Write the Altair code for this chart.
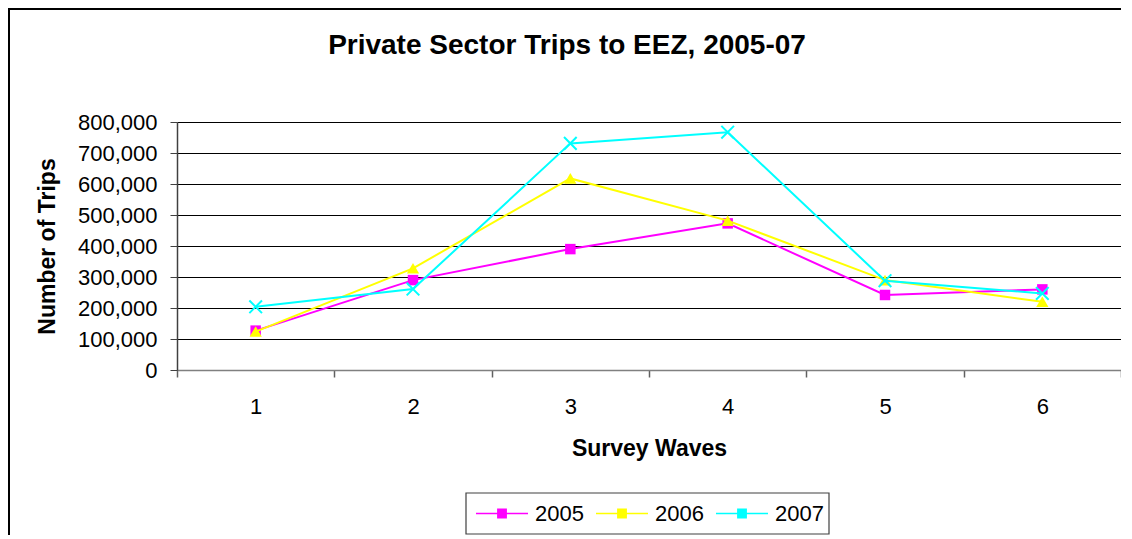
import altair as alt
import pandas as pd

# ---- data ----
waves = ["1", "2", "3", "4", "5", "6"]
years = ["2005", "2006", "2007"]
trips_2005 = [127000, 290000, 390000, 473000, 242000, 260000]
trips_2006 = [124000, 328000, 618000, 482000, 290000, 220000]
trips_2007 = [204000, 261000, 731000, 767000, 288000, 247000]
y_ticks = [0, 100000, 200000, 300000, 400000, 500000, 600000, 700000, 800000]

colors = ["#FF00FF", "#FFFF00", "#00FFFF"]
FONT = "Liberation Sans"

rows = []
for year, vals in zip(years, [trips_2005, trips_2006, trips_2007]):
    for w, v in zip(waves, vals):
        rows.append({"Wave": w, "Year": year, "Trips": v})
df = pd.DataFrame(rows)

x_enc = alt.X(
    "Wave:O",
    sort=waves,
    scale=alt.Scale(type="band", paddingInner=0, paddingOuter=0),
    axis=alt.Axis(
        title="Survey Waves",
        labelAngle=0,
        tickBand="extent",
        tickSize=7,
        labelPadding=19,
        titlePadding=20,
        domainColor="#808080",
        domainWidth=1.5,
        tickColor="#606060",
        tickWidth=1.5,
        labelFont=FONT,
        labelFontSize=22,
        labelColor="black",
        titleFont=FONT,
        titleFontSize=23,
        titleFontWeight="bold",
        titleColor="black",
        grid=False,
    ),
)
y_enc = alt.Y(
    "Trips:Q",
    scale=alt.Scale(domain=[0, 800000], nice=False),
    axis=alt.Axis(
        title="Number of Trips",
        values=y_ticks,
        format=",d",
        tickSize=7,
        labelPadding=13,
        titlePadding=18,
        grid=True,
        gridColor="black",
        gridWidth=1,
        domainColor="#404040",
        domainWidth=1.5,
        tickColor="#404040",
        labelFont=FONT,
        labelFontSize=22,
        labelColor="black",
        titleFont=FONT,
        titleFontSize=23,
        titleFontWeight="bold",
        titleColor="black",
    ),
)

# legend: line segment with a marker; an invisible left title shifts the
# entries so that they sit inside the legend frame drawn below
leg = alt.Legend(
    title=".",
    titleOrient="left",
    titleOpacity=0,
    titleFontSize=11,
    titlePadding=285,
    orient="bottom",
    offset=33,
    direction="horizontal",
    labelFont=FONT,
    labelFontSize=22,
    labelColor="black",
    labelOffset=6,
    columnPadding=11,
    padding=9,
    clipHeight=23,
    strokeColor="transparent",
    symbolSize=2704,
    symbolStrokeWidth=1.5,
    symbolType="M-1,0H1M-0.16,-0.16H0.16V0.16H-0.16Z",
)
color_enc_leg = alt.Color("Year:N", scale=alt.Scale(domain=years, range=colors), legend=leg)
color_enc = alt.Color("Year:N", scale=alt.Scale(domain=years, range=colors), legend=None)

marker_shapes = ["square", "triangle-up", "M-1,-1L1,1M-1,1L1,-1"]
marker_sizes = [110, 150, 160]
marker_filled = [True, True, False]

# outer chart frame (top and left edges; right/bottom lie outside the picture)
frame_src = alt.Chart(pd.DataFrame({"k": [0]}))
frame_left = frame_src.mark_rule(color="black", strokeWidth=2).encode(
    x=alt.value(-168), y=alt.value(-114), y2=alt.value(600)
)
frame_top = frame_src.mark_rule(color="black", strokeWidth=2).encode(
    x=alt.value(-169), x2=alt.value(1100), y=alt.value(-113)
)
legend_frame = frame_src.mark_rect(fill="white", stroke="#404040", strokeWidth=1.2).encode(
    x=alt.value(289), x2=alt.value(652), y=alt.value(371), y2=alt.value(412)
)

layers = [frame_left, frame_top, legend_frame]
for i, (year, shape, size, filled) in enumerate(zip(years, marker_shapes, marker_sizes, marker_filled)):
    base = alt.Chart(df).transform_filter(alt.datum.Year == year)
    layers.append(base.mark_line(strokeWidth=2).encode(
        x=x_enc, y=y_enc, color=color_enc_leg if i == 0 else color_enc))
    layers.append(
        base.mark_point(shape=shape, size=size, filled=filled, opacity=1, strokeWidth=2).encode(
            x=x_enc, y=y_enc, color=color_enc
        )
    )

chart = alt.layer(*layers).properties(
    width=944,
    height=248,
    padding={"left": 169, "top": 114, "right": 0, "bottom": 165},
    autosize=alt.AutoSizeParams(type="none"),
    background="white",
    title=alt.TitleParams(
        "Private Sector Trips to EEZ, 2005-07",
        font=FONT,
        fontSize=28,
        fontWeight="bold",
        color="black",
        anchor="middle",
        dx=-82,
        dy=53,
        offset=0,
    ),
).configure_view(stroke="transparent")

chart.save("out.html", embed_options={"renderer": "svg", "actions": False})
